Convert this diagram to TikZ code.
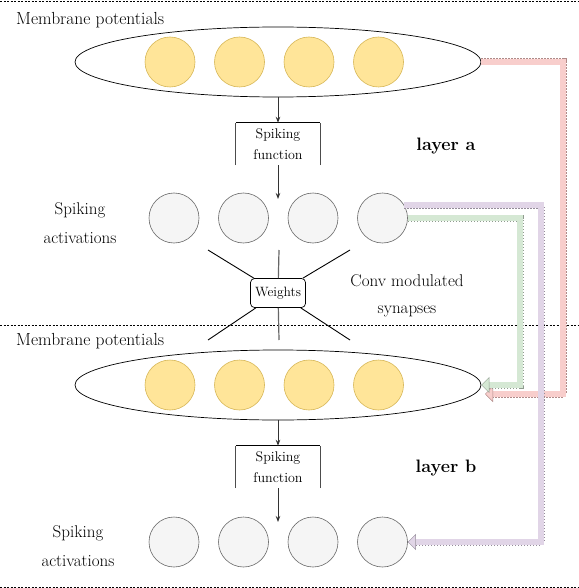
\documentclass[tikz,border=0pt]{standalone}
\usepackage{fontspec}
\usepackage{tikz}
\usetikzlibrary{shapes.geometric,arrows.meta,positioning}
\definecolor{potfill}{HTML}{FFE599}
\definecolor{potline}{HTML}{D6B656}
\definecolor{spkfill}{HTML}{F5F5F5}
\definecolor{spkline}{HTML}{666666}
\definecolor{redfill}{HTML}{F8CECC}
\definecolor{redline}{HTML}{B08A88}
\definecolor{greenfill}{HTML}{D5E8D4}
\definecolor{greenline}{HTML}{909C8F}
\definecolor{purplefill}{HTML}{E1D5E7}
\definecolor{purpleline}{HTML}{958C9A}
\begin{document}
\begin{tikzpicture}[x=1pt,y=-1pt,node distance={69.5pt},
pot/.style={draw=potline,fill=potfill,circle,minimum size={50pt},inner sep=0pt,line width=0.6pt},
spk/.style={draw=spkline,fill=spkfill,circle,minimum size={50pt},inner sep=0pt,line width=0.6pt},
layer/.style={draw,ellipse,minimum width={406pt},minimum height={70pt},inner sep=0pt,line width=0.7pt},
fn/.style={align=center,minimum width={84pt},minimum height={42pt},inner sep=0pt,font=\fontsize{14}{21}\selectfont},
big/.style={align=center,font=\fontsize{17}{29}\selectfont},
potlabel/.style={anchor=west,inner sep=0pt,font=\fontsize{17.5}{21}\selectfont},
layername/.style={font=\bfseries\fontsize{18}{22}\selectfont},
sep/.style={dash pattern=on 2pt off 1.5pt,line width=0.7pt},
arr/.style={-{Stealth[length=6pt,width=4.5pt]},line width=0.9pt,black!80},
bandout/.style={line width=7pt,dash pattern=on 1.5pt off 1.5pt,shorten >=6pt},
bandin/.style={line width=6pt}]
\useasboundingbox (0,0) rectangle (578,588);
\draw[sep] (0,1) -- (578,1);
\draw[sep] (0,325) -- (578,325);
\draw[sep] (0,587) -- (578,587);
\node[potlabel] (ta) at (16,20) {Membrane potentials};
\node[layer] (ma) at (278,62) {};
\node[pot] (pa1) at (170,62) {};
\node[pot] (pa2) [right of=pa1] {};
\node[pot] (pa3) [right of=pa2] {};
\node[pot] (pa4) [right of=pa3] {};
\node[fn] (fa) at (278,144) {Spiking\\function};
\draw[black!70,line width=0.7pt] (fa.south west) -- (fa.north west);
\draw[black!70,line width=0.7pt] (fa.south east) -- (fa.north east);
\draw[black,line width=0.8pt] (fa.north west) -- (fa.north east);
\draw[arr] (ma.south) -- (fa.north);
\coordinate (ea) at (278,199);
\draw[arr] (fa.south) -- (ea);
\node[big] (la) at (80,223) {Spiking\\activations};
\node[spk] (sa1) at (174,218) {};
\node[spk] (sa2) [right of=sa1] {};
\node[spk] (sa3) [right of=sa2] {};
\node[spk] (sa4) [right of=sa3] {};
\node[layername] (na) at (446,146) {layer a};
\node[big,font=\fontsize{17}{27}\selectfont] (cv) at (407,296) {Conv modulated\\synapses};
\node[draw,rounded corners=4pt,fill=white,minimum width={55pt},minimum height={29pt},inner sep=1pt,line width=0.7pt,font=\fontsize{13.5}{15}\selectfont] (wt) at (278,293) {Weights};
\coordinate (w1) at (208,250);
\coordinate (w2) at (350,250);
\coordinate (w3) at (208,340);
\coordinate (w4) at (350,340);
\coordinate (w5) at (279,250);
\coordinate (w6) at (279,340);
\draw[line width=0.9pt] (w1) -- (wt) -- (w4);
\draw[line width=0.9pt] (w2) -- (wt) -- (w3);
\draw[black!60,line width=1.2pt] (w5) -- (wt) -- (w6);
\node[potlabel] (tb) at (16,341) {Membrane potentials};
\node[layer] (mb) at (278,385) {};
\node[pot] (pb1) at (170,385) {};
\node[pot] (pb2) [right of=pb1] {};
\node[pot] (pb3) [right of=pb2] {};
\node[pot] (pb4) [right of=pb3] {};
\node[fn] (fb) at (278,467) {Spiking\\function};
\draw[black!70,line width=0.7pt] (fb.south west) -- (fb.north west);
\draw[black!70,line width=0.7pt] (fb.south east) -- (fb.north east);
\draw[black,line width=0.8pt] (fb.north west) -- (fb.north east);
\draw[arr] (mb.south) -- (fb.north);
\coordinate (eb) at (278,522);
\draw[arr] (fb.south) -- (eb);
\node[big] (lb) at (78,546) {Spiking\\activations};
\node[spk] (sb1) at (174,542) {};
\node[spk] (sb2) [right of=sb1] {};
\node[spk] (sb3) [right of=sb2] {};
\node[spk] (sb4) [right of=sb3] {};
\node[layername] (nb) at (446,468) {layer b};
\coordinate (rend) at (485,394);
\draw[bandout,redline] (ma.east) -| (563,200) |- (rend);
\draw[bandin,redfill,-{Triangle[length=8pt,width=16pt,line width=0.4pt,fill=redfill,color=redline]}] (ma.east) -| (563,200) |- (rend);
\draw[bandout,greenline] (sa4.east) -| (520,300) |- (mb.east);
\draw[bandin,greenfill,-{Triangle[length=8pt,width=16pt,line width=0.4pt,fill=greenfill,color=greenline]}] (sa4.east) -| (520,300) |- (mb.east);
\draw[bandout,purpleline] (sa4.30) -| (541,400) |- (sb4.east);
\draw[bandin,purplefill,-{Triangle[length=8pt,width=16pt,line width=0.4pt,fill=purplefill,color=purpleline]}] (sa4.30) -| (541,400) |- (sb4.east);
\end{tikzpicture}
\end{document}
